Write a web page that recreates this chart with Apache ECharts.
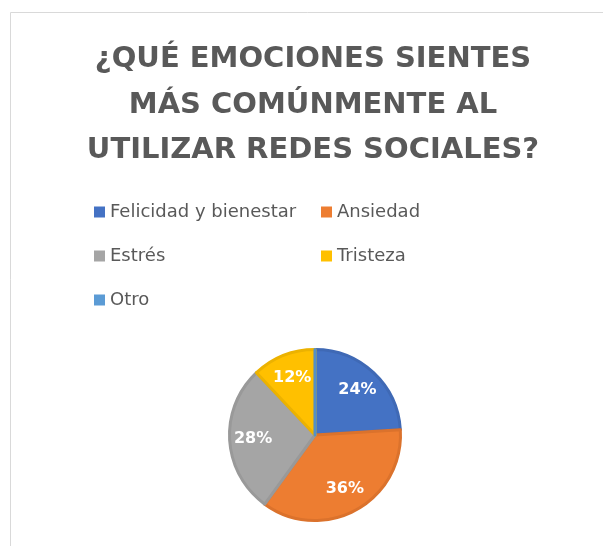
<!DOCTYPE html>
<html><head><meta charset="utf-8">
<script src="https://cdn.jsdelivr.net/npm/echarts@6/dist/echarts.min.js"></script>
<style>html,body{margin:0;padding:0;background:#fff}#c{width:603px;height:546px}</style>
</head><body><div id="c"></div>
<script>
const titleLines = ['¿QUÉ EMOCIONES SIENTES', 'MÁS COMÚNMENTE AL', 'UTILIZAR REDES SOCIALES?'];
const categories = ['Felicidad y bienestar', 'Ansiedad', 'Estrés', 'Tristeza', 'Otro'];
const values = [24, 36, 28, 12, 0];
const colors = ['#4472C4', '#ED7D31', '#A5A5A5', '#FFC000', '#5B9BD5'];
const borders = ['#3F69B5', '#DB722C', '#999999', '#ECB200', '#5490C6'];

const chart = echarts.init(document.getElementById('c'), null, {renderer: 'canvas'});
const data = categories.map((n, i) => ({name: n, value: values[i], itemStyle: {color: colors[i], borderColor: borders[i], borderWidth: 3}}));
const legendPos = [[94, 203], [321, 203], [94, 247], [321, 247], [94, 291]];
const legends = categories.map((n, i) => ({
  data: [n], left: legendPos[i][0], top: legendPos[i][1], padding: 0,
  itemWidth: 11, itemHeight: 11, icon: 'rect', selectedMode: false,
  itemStyle: {borderWidth: 0},
  textStyle: {fontFamily: 'DejaVu Sans', fontSize: 18, color: '#595959'}
}));
chart.setOption({
  animation: false,
  color: colors,
  legend: legends,
  graphic: [
    {type: 'rect', shape: {x: 10.5, y: 12.5, width: 700, height: 700}, style: {fill: 'none', stroke: '#D9D9D9', lineWidth: 1}, silent: true},
    {type: 'text', x: 313, y: 37, style: {text: titleLines.join('\n'), fontFamily: 'DejaVu Sans', fontWeight: 'bold', fontSize: 29, lineHeight: 45.5, fill: '#595959', align: 'center', verticalAlign: 'top'}}
  ],
  series: [
    {type: 'pie', center: [315, 435], radius: [0, 85.5], startAngle: 90, clockwise: true,
     label: {show: false}, labelLine: {show: false}, data: data, silent: true},
    {type: 'pie', center: [315, 435], radius: [31, 87], startAngle: 90, clockwise: true, silent: true,
     itemStyle: {color: 'rgba(0,0,0,0)'}, legendHoverLink: false,
     label: {show: true, position: 'inside', formatter: '{d}%', color: '#fff', fontFamily: 'DejaVu Sans', fontWeight: 'bold', fontSize: 16},
     labelLine: {show: false},
     data: categories.map((n, i) => ({name: n + ' ', value: values[i], itemStyle: {color: 'rgba(0,0,0,0)', borderWidth: 0}, label: {show: values[i] > 0}}))}
  ]
});
</script></body></html>
